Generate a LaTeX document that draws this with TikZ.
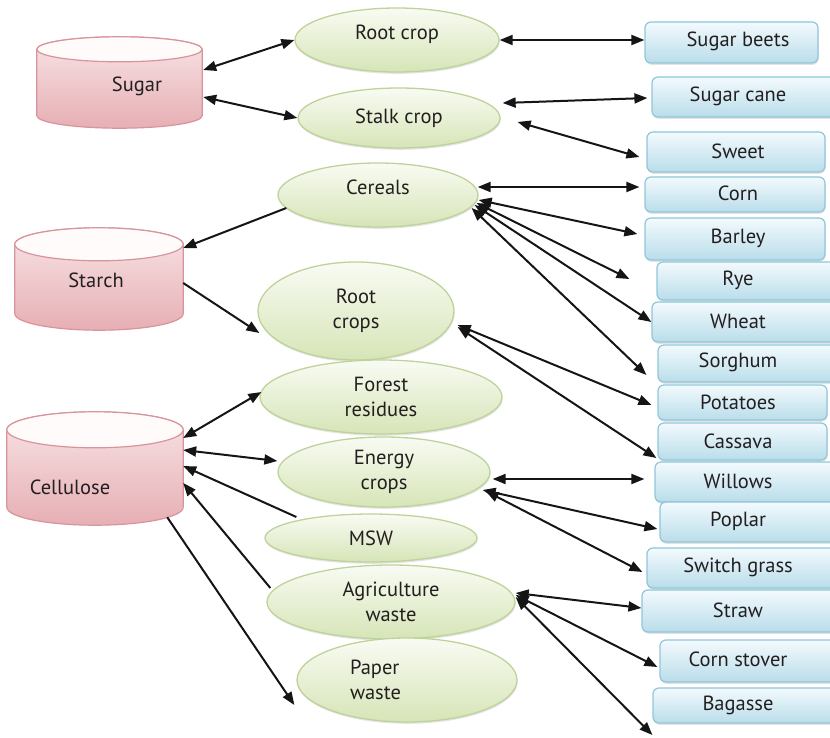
\documentclass[tikz,border=0pt]{standalone}
\usepackage{fontspec}
\setmainfont{PT Sans}
\usetikzlibrary{arrows.meta,calc,shadows,shapes.geometric}

\definecolor{ink}{HTML}{231F20}
\definecolor{wire}{HTML}{151515}
\definecolor{barrelline}{HTML}{D8949A}
\definecolor{barreltop}{HTML}{F8E4E6}
\definecolor{barrelbottom}{HTML}{E6AFB4}
\definecolor{barrellid}{HTML}{FFFBFB}
\definecolor{cropline}{HTML}{BED39A}
\definecolor{croptop}{HTML}{F9FBF3}
\definecolor{cropbottom}{HTML}{D6E5B7}
\definecolor{feedline}{HTML}{8FC6D9}
\definecolor{feedtop}{HTML}{F3FAFD}
\definecolor{feedbottom}{HTML}{B9DDEA}

\begin{document}
\begin{tikzpicture}[
  x=1pt, y=-1pt,
  font=\fontsize{20.5}{25}\selectfont, text=ink,
  barrel/.style={rectangle, inner sep=0pt},
  barrel body/.style={draw=barrelline, line width=1.2pt, top color=barreltop, bottom color=barrelbottom},
  barrel lid/.style={draw=barrelline, line width=1.2pt, fill=barrellid},
  barreltext/.style={inner sep=0pt},
  crop/.style={ellipse, draw=cropline, line width=1.3pt, top color=croptop, bottom color=cropbottom,
    inner sep=0pt, align=center,
    drop shadow={shadow xshift=0.6pt, shadow yshift=-1.8pt, opacity=0.18, fill=black!60}},
  raised/.style={text height=0pt, text depth=0pt},
  feed/.style={rectangle, rounded corners=6pt, draw=feedline, line width=1.2pt,
    top color=feedtop, bottom color=feedbottom, inner sep=0pt,
    drop shadow={shadow xshift=0.6pt, shadow yshift=-1.8pt, opacity=0.18, fill=black!60}},
  feedtext/.style={inner sep=0pt},
  conn/.style={draw=wire, line width=2pt},
  dbl/.style={conn, {Triangle[length=13pt,width=10pt]}-{Triangle[length=13pt,width=10pt]}},
  fwd/.style={conn, -{Triangle[length=13pt,width=10pt]}},
  bwd/.style={conn, {Triangle[length=13pt,width=10pt]}-},
]
\useasboundingbox (0,0) rectangle (830,738);

% ---------- sugar platforms (barrels) ----------
\node[barrel, minimum width=165pt, minimum height=91pt]  (sugar)     at (119.5,82.5) {};
\node[barrel, minimum width=168pt, minimum height=102pt] (starch)    at (99,279) {};
\node[barrel, minimum width=176pt, minimum height=113pt] (cellulose) at (95,468.5) {};

\foreach \nm/\ry in {sugar/12.5, starch/16.5, cellulose/18}{
  \path[barrel body] let \p1=(\nm.north west), \p2=(\nm.south east), \n1={(\x2-\x1)/2} in
    (\x1,{\y1-\ry pt}) -- (\x1,{\y2+\ry pt})
    arc[start angle=180, end angle=360, x radius=\n1, y radius=\ry pt]
    -- (\x2,{\y1-\ry pt})
    arc[start angle=0, end angle=180, x radius=\n1, y radius=\ry pt] -- cycle;
  \path[barrel lid] let \p1=(\nm.north west), \p2=(\nm.south east), \n1={(\x2-\x1)/2} in
    ({(\x1+\x2)/2},{\y1-\ry pt}) ellipse[x radius=\n1, y radius=\ry pt];
}
\node[barreltext] (sugar-label)     at (137,86)  {Sugar};
\node[barreltext] (starch-label)    at (96,280)  {Starch};
\node[barreltext] (cellulose-label) at (70,487)  {Cellulose};

% ---------- crop types ----------
\node[crop, raised, minimum width=204pt, minimum height=64pt] (rootcrop)  at (397,40)  {Root crop};
\node[crop, minimum width=202pt, minimum height=60pt]         (stalk)     at (399,118) {Stalk crop};
\node[crop, raised, minimum width=200pt, minimum height=64pt] (cereals)   at (378,195) {Cereals};
\node[crop, minimum width=196pt, minimum height=98pt]         (rootcrops) at (356,311) {Root\\crops};
\node[crop, minimum width=242pt, minimum height=74pt]         (forest)    at (381,397) {Forest\\residues};
\node[crop, minimum width=212pt, minimum height=70pt]         (energy)    at (384,472) {Energy\\crops};
\node[crop, minimum width=212pt, minimum height=48pt]         (msw)       at (371,538) {MSW};
\node[crop, minimum width=248pt, minimum height=74pt]         (agri)      at (391,602) {Agriculture\\waste};
\node[crop, minimum width=220pt, minimum height=84pt, text width=114pt, align=left]
                                                              (paper)     at (407,680) {Paper\\waste};

% ---------- feedstocks ----------
\node[feed, minimum width=173pt, minimum height=41pt] (beets)    at (731.5,42.5) {};
\node[feed, minimum width=188pt, minimum height=40pt] (cane)     at (746,97)     {};
\node[feed, minimum width=178pt, minimum height=40pt] (sweet)    at (736,152)    {};
\node[feed, minimum width=180pt, minimum height=35pt] (corn)     at (735,194.5)  {};
\node[feed, minimum width=180pt, minimum height=42pt] (barley)   at (735,239)    {};
\node[feed, minimum width=183pt, minimum height=38pt] (rye)      at (748.5,281)  {};
\node[feed, minimum width=188pt, minimum height=40pt] (wheat)    at (746,322)    {};
\node[feed, minimum width=182pt, minimum height=37pt] (sorghum)  at (749,363.5)  {};
\node[feed, minimum width=169pt, minimum height=35pt] (potatoes) at (742.5,402.5) {};
\node[feed, minimum width=169pt, minimum height=37pt] (cassava)  at (742.5,441.5) {};
\node[feed, minimum width=185pt, minimum height=40pt] (willows)  at (747.5,482)  {};
\node[feed, minimum width=180pt, minimum height=40pt] (poplar)   at (750,522)    {};
\node[feed, minimum width=193pt, minimum height=40pt] (switch)   at (743.5,568)  {};
\node[feed, minimum width=198pt, minimum height=42pt] (straw)    at (741,611)    {};
\node[feed, minimum width=180pt, minimum height=42pt] (stover)   at (750,661)    {};
\node[feed, minimum width=187pt, minimum height=35pt] (bagasse)  at (746.5,705.5) {};

\node[feedtext] (beets-t)    at (738,41)  {Sugar beets};
\node[feedtext] (cane-t)     at (738,96)  {Sugar cane};
\node[feedtext] (sweet-t)    at (738,151) {Sweet};
\node[feedtext] (corn-t)     at (738,193.5) {Corn};
\node[feedtext] (barley-t)   at (738,238) {Barley};
\node[feedtext] (rye-t)      at (738,280) {Rye};
\node[feedtext] (wheat-t)    at (738,321) {Wheat};
\node[feedtext] (sorghum-t)  at (738,362.5) {Sorghum};
\node[feedtext] (potatoes-t) at (738,402) {Potatoes};
\node[feedtext] (cassava-t)  at (738,441) {Cassava};
\node[feedtext] (willows-t)  at (738,481) {Willows};
\node[feedtext] (poplar-t)   at (738,521) {Poplar};
\node[feedtext] (switch-t)   at (738,567) {Switch grass};
\node[feedtext] (straw-t)    at (738,610) {Straw};
\node[feedtext] (stover-t)   at (738,659) {Corn stover};
\node[feedtext] (bagasse-t)  at (738,705) {Bagasse};

% ---------- connectors ----------
% sugar
\draw[dbl] ($(sugar.east)+(1,-12.5)$) -- (rootcrop.west);
\draw[dbl] ($(sugar.east)+(1,14.5)$) -- (stalk.west);
\draw[dbl] (rootcrop.east) -- (rootcrop.east -| beets.west);
\draw[dbl] ($(stalk.east)+(2,-15)$) -- ($(cane.west)+(-4,1)$);
\draw[dbl] ($(stalk.east)+(17,4)$) -- ($(sweet.west)+(-7,5)$);
% starch
\draw[fwd] ($(cereals.west)+(9,13)$) -- ($(starch.east)+(0,-31)$);
\draw[fwd] ($(starch.east)+(0,4)$) -- ($(rootcrops.west)+(2,22)$);
\draw[dbl] ($(cereals.east)+(-1,-8)$) -- ($(corn.west)+(-5,-7.5)$);
\draw[dbl] ($(cereals.east)+(0,5)$) -- ($(barley.west)+(-7,-5)$);
\draw[dbl] ($(cereals.east)+(-2,8)$) -- ($(rye.west)+(-27,-2)$);
\draw[dbl] ($(cereals.east)+(-4,10)$) -- (wheat.west);
\draw[dbl] ($(cereals.east)+(-7,13)$) -- ($(sorghum.west)+(-11,11.5)$);
\draw[dbl] ($(rootcrops.east)+(3,14)$) -- ($(potatoes.west)+(-6,2.5)$);
\draw[dbl] ($(rootcrops.east)+(3,16)$) -- ($(cassava.west)+(-1,16.5)$);
% cellulose
\draw[dbl] ($(cellulose.east)+(0,-30.5)$) -- ($(forest.west)+(2,-5)$);
\draw[dbl] ($(cellulose.east)+(0,-18.5)$) -- ($(energy.west)+(0,-11)$);
\draw[bwd] ($(cellulose.east)+(0,-2.5)$) -- ($(msw.west)+(32,-21)$);
\draw[bwd] ($(cellulose.east)+(0,14.5)$) -- ($(agri.west)+(4,-14)$);
\draw[fwd] ($(cellulose.south east)+(-16,-8)$) -- ($(paper.west)+(-2,25)$);
\draw[dbl] ($(energy.east)+(2,7)$) -- ($(willows.west)+(-10,-3)$);
\draw[dbl] ($(energy.east)+(-8,18)$) -- ($(poplar.west)+(-2,7)$);
\draw[dbl] ($(energy.east)+(-5,19)$) -- ($(switch.west)+(-4,4)$);
\draw[dbl] ($(agri.east)+(0,-9)$) -- ($(straw.west)+(0,-3)$);
\draw[dbl] ($(agri.east)+(0,-7)$) -- ($(stover.west)+(-2,6)$);
\draw[dbl] ($(agri.east)+(0,-5)$) -- ($(bagasse.west)+(0,29.5)$);
\end{tikzpicture}
\end{document}
